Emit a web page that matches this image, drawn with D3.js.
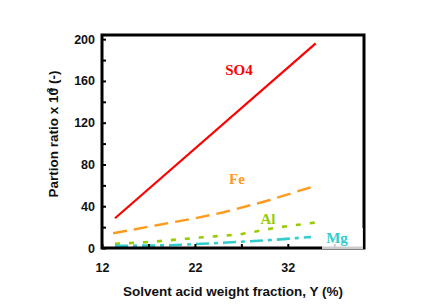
<!DOCTYPE html>
<html>
<head>
<meta charset="utf-8">
<script src="https://cdn.jsdelivr.net/npm/d3@7"></script>
<style>
  body { margin: 0; background: #fff; }
  svg { display: block; font-family: "Liberation Sans", Arial, sans-serif; }
</style>
</head>
<body>
<div id="chart"></div>
<script>
let width = 437,
    height = 307,
    margin = ({ top: 35, right: 73, bottom: 59, left: 102 });

// data
const so4X = [13.4, 35];
const so4Y = [28.5, 196];
const feX = [13.2, 17.9, 21.5, 25.0, 29.7, 35.0];
const feY = [14.1, 21.8, 27.6, 34, 45, 59.6];
const alX = [13.4, 17.2, 22.5, 26.8, 30.8, 35.0];
const alY = [4, 5.8, 10, 13, 19.6, 24.4];
const mgX = [13.4, 19.3, 25, 30.8, 34.5];
const mgY = [2, 2.6, 5, 8, 10.6];
const xTicks = [12, 22, 32];
const xMinor = [17, 27, 37];
const yTicks = [0, 40, 80, 120, 160, 200];
const yMinor = [20, 60, 100, 140, 180];

const svg = d3.select("#chart")
  .append("svg")
  .attr("width", width)
  .attr("height", height);

let x = d3.scaleLinear()
  .domain([12, 40.2])
  .range([margin.left, width - margin.right]);

let y = d3.scaleLinear()
  .domain([0, 204])
  .range([height - margin.bottom, margin.top]);

const zip = (xs, ys) => xs.map((v, i) => [v, ys[i]]);
const line = d3.line().x(d => x(d[0])).y(d => y(d[1]));

const series = [
  { pts: zip(so4X, so4Y), color: "#ff0000", w: 2.2, dash: null },
  { pts: zip(feX, feY), color: "#ff9a1f", w: 2.4, dash: "14,7" },
  { pts: zip(alX, alY), color: "#99cc00", w: 2.6, dash: "5,9" },
  { pts: zip(mgX, mgY), color: "#33cccc", w: 2.6, dash: "13,5,4,5" }
];

svg.append("g")
  .selectAll("path")
  .data(series)
  .join("path")
  .attr("d", d => line(d.pts))
  .attr("fill", "none")
  .attr("stroke", d => d.color)
  .attr("stroke-width", d => d.w)
  .attr("stroke-dasharray", d => d.dash);

// axes with ticks pointing inward
svg.append("g")
  .attr("transform", `translate(0,${y(0)})`)
  .call(d3.axisBottom(x).tickValues(xTicks.concat(xMinor)).tickSize(-4)
    .tickFormat(d => xTicks.includes(d) ? d : ""))
  .call(g => g.select(".domain").remove())
  .call(g => g.selectAll("line").attr("stroke-width", 2))
  .call(g => g.selectAll("text").attr("dy", 0).attr("y", 24)
    .attr("font-size", 12.5).attr("font-weight", "bold").attr("fill", "#111"));

svg.append("g")
  .attr("transform", `translate(${x(12)},0)`)
  .call(d3.axisLeft(y).tickValues(yTicks.concat(yMinor)).tickSize(-4)
    .tickFormat(d => yTicks.includes(d) ? d : ""))
  .call(g => g.select(".domain").remove())
  .call(g => g.selectAll("line").attr("stroke-width", 2))
  .call(g => g.selectAll("text").attr("x", -7)
    .attr("font-size", 12.5).attr("font-weight", "bold").attr("fill", "#111"));

// frame
svg.append("rect")
  .attr("x", x(12))
  .attr("y", margin.top)
  .attr("width", width - margin.right - x(12))
  .attr("height", y(0) - margin.top)
  .attr("fill", "none")
  .attr("stroke", "#000")
  .attr("stroke-width", 3);

// series labels
const lab = svg.append("g")
  .attr("font-family", "'Liberation Serif', 'Times New Roman', serif")
  .attr("font-weight", "bold")
  .attr("font-size", 15)
  .attr("text-anchor", "middle");

lab.append("text").attr("x", 239).attr("y", 75).attr("fill", "#ff0000").text("SO4");
lab.append("text").attr("x", 237).attr("y", 184).attr("fill", "#ff9a1f").text("Fe");
lab.append("text").attr("x", 268).attr("y", 224).attr("fill", "#99cc00").text("Al");

// Mg label sits on a white box over the frame corner
const mg = svg.append("g")
  .attr("font-family", "'Liberation Serif', 'Times New Roman', serif")
  .attr("font-weight", "bold")
  .attr("font-size", 15)
  .attr("text-anchor", "middle");
mg.append("rect")
  .attr("x", 322).attr("y", 228).attr("width", 41).attr("height", 21)
  .attr("fill", "#fff").attr("opacity", 0.8);
mg.append("text").attr("x", 337).attr("y", 243).attr("fill", "#33cccc").text("Mg");

// axis titles
svg.append("text")
  .attr("x", 233)
  .attr("y", 296)
  .attr("text-anchor", "middle")
  .attr("font-size", 13.5)
  .attr("font-weight", "bold")
  .attr("fill", "#111")
  .text("Solvent acid weight fraction, Y (%)");

const yt = svg.append("text")
  .attr("transform", "translate(58,134) rotate(-90)")
  .attr("text-anchor", "middle")
  .attr("font-size", 13.5)
  .attr("font-weight", "bold")
  .attr("fill", "#111");
yt.append("tspan").text("Partion ratio x 10");
yt.append("tspan").attr("dx", -5).attr("dy", -5).attr("font-size", 9).text("3");
yt.append("tspan").attr("dy", 5).text(" (-)");
</script>
</body>
</html>
